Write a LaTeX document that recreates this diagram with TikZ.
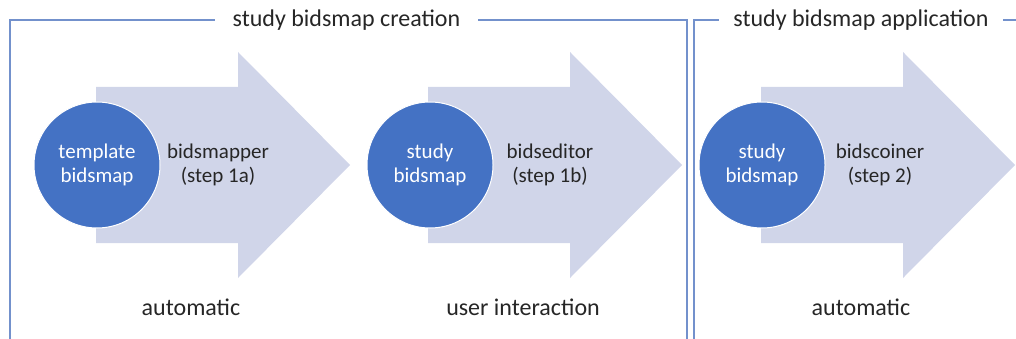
\documentclass[tikz,border=0pt]{standalone}
\usepackage{fontspec}
\setmainfont{Carlito}
\definecolor{circblue}{HTML}{4472C4}
\definecolor{arrowfill}{HTML}{D0D5E9}
\definecolor{frameblue}{HTML}{7391CC}
\definecolor{textgray}{HTML}{262626}
\begin{document}
\begin{tikzpicture}[x=1pt,y=-1pt,
  framestyle/.style={draw=frameblue,line width=1.8pt},
  headtext/.style={fill=white,font=\fontsize{24}{28}\selectfont,text=textgray,inner sep=0pt,anchor=center},
  bigarrow/.style={fill=arrowfill,draw=none},
  disc/.style={circle,fill=circblue,draw=white,line width=1pt,minimum size=126pt,inner sep=0pt,
    text=white,font=\fontsize{21}{24}\selectfont,align=center},
  steptext/.style={font=\fontsize{21}{24}\selectfont,text=textgray,align=center},
  modetext/.style={font=\fontsize{24}{28}\selectfont,text=textgray}]
\useasboundingbox (0,0) rectangle (1016,339);

% frames
\draw[framestyle] (10,345) -- (10,20) -- (687,20) -- (687,345);
\draw[framestyle] (694,345) -- (694,20) -- (1020,20);
\node[headtext,minimum width=263pt,minimum height=20pt] (h1) at (346.5,20) {study bidsmap creation};
\node[headtext,minimum width=284pt,minimum height=20pt] (h2) at (861,20) {study bidsmap application};

% block arrows
\foreach \dx in {0,332,665}{
  \fill[bigarrow] (96+\dx,87) -- (238+\dx,87) -- (238+\dx,52) -- (350+\dx,165)
     -- (238+\dx,278) -- (238+\dx,243) -- (96+\dx,243) -- cycle;
}

% discs
\node[disc] (c1) at (97,165) {template\\bidsmap};
\node[disc] (c2) at (430,165) {study\\bidsmap};
\node[disc] (c3) at (762,165) {study\\bidsmap};

% step labels
\node[steptext] (s1) at (218,165) {bidsmapper\\(step 1a)};
\node[steptext] (s2) at (550,165) {bidseditor\\(step 1b)};
\node[steptext] (s3) at (880,165) {bidscoiner\\(step 2)};

% mode labels
\node[modetext] (m1) at (191,307) {automatic};
\node[modetext] (m2) at (523,307) {user interaction};
\node[modetext] (m3) at (861,307) {automatic};
\end{tikzpicture}
\end{document}
